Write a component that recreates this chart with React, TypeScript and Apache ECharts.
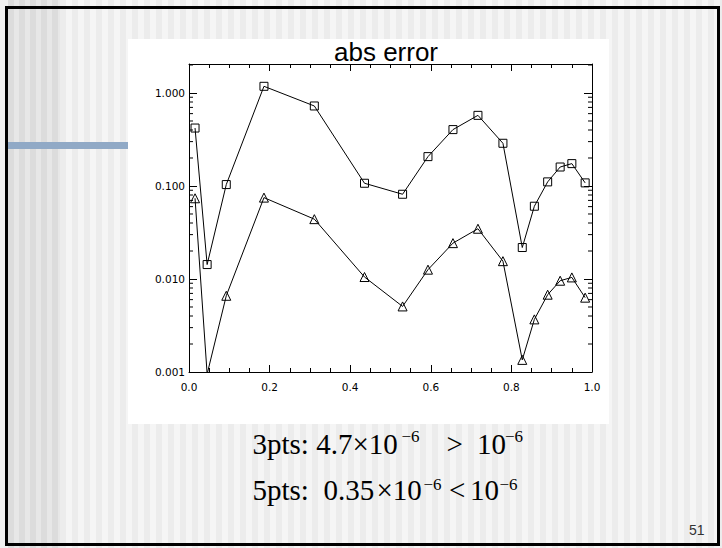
import React, { useEffect, useRef } from "react";
import * as echarts from "echarts";

// Node positions (x) and absolute errors
const xNodes = [0.015, 0.045, 0.0925, 0.186, 0.311, 0.4355, 0.53, 0.593, 0.655, 0.717, 0.779, 0.827, 0.857, 0.89, 0.921, 0.95, 0.983];
const errSquares = [0.42, 0.0143, 0.1036, 1.18, 0.725, 0.107, 0.0815, 0.207, 0.404, 0.575, 0.288, 0.0218, 0.0606, 0.1107, 0.16, 0.174, 0.108];
const errTriangles = [0.0738, 0.00095, 0.0066, 0.075, 0.044, 0.0105, 0.00507, 0.0126, 0.0243, 0.0347, 0.01555, 0.00135, 0.00368, 0.00678, 0.00958, 0.0104, 0.0063];

const titleText = "abs error";
const yMin = 0.001;
const yMax = 2.05;
const minorMultipliers = [2, 3, 4, 5, 6, 7, 8, 9];
const decades = [0.001, 0.01, 0.1, 1];
const pageNumber = "51";

const serif = "'Liberation Serif', 'Times New Roman', serif";
const sans = "'DejaVu Sans', sans-serif";

export default function App() {
  const ref = useRef<HTMLDivElement>(null);
  useEffect(() => {
    if (!ref.current) return;
    const chart = echarts.init(ref.current, null, { renderer: "svg" });

    const minorVals: number[][] = [];
    decades.forEach((d) => minorMultipliers.forEach((m) => {
      const v = d * m;
      if (v < yMax) minorVals.push([0, v]);
    }));

    const xAxisBase = (pos: string, showLabel: boolean) => ({
      type: "value",
      gridIndex: 0,
      position: pos,
      min: 0,
      max: 1,
      interval: 0.2,
      axisLine: { show: true, onZero: false, lineStyle: { color: "#000", width: 1 } },
      axisTick: { show: true, inside: true, length: 7, lineStyle: { color: "#000", width: 1 } },
      minorTick: { show: true, splitNumber: 4, length: 4, lineStyle: { color: "#000", width: 1 } },
      splitLine: { show: false },
      minorSplitLine: { show: false },
      axisLabel: {
        show: showLabel,
        formatter: (v: number) => v.toFixed(1),
        fontSize: 10.5,
        fontFamily: sans,
        color: "#000",
        margin: 9,
      },
    });
    const yAxisBase = (pos: string, showLabel: boolean) => ({
      type: "log",
      logBase: 10,
      gridIndex: 0,
      position: pos,
      min: yMin,
      max: yMax,
      axisLine: { show: true, onZero: false, lineStyle: { color: "#000", width: 1 } },
      axisTick: { show: true, inside: true, length: 8, lineStyle: { color: "#000", width: 1 } },
      minorTick: { show: false },
      splitLine: { show: false },
      axisLabel: {
        show: showLabel,
        formatter: (v: number) => v.toFixed(3),
        showMaxLabel: false,
        fontSize: 10.5,
        fontFamily: sans,
        color: "#000",
        margin: 4,
      },
    });

    const supStyle = { fontSize: 17, fontFamily: serif, fill: "#000" };
    const mainStyle = { fontSize: 29, fontFamily: serif, fill: "#000" };
    const txt = (x: number, y: number, text: string, style: any) => ({
      type: "text",
      x,
      y,
      style: { text, ...style, textAlign: "left", verticalAlign: "middle" },
    });

    chart.setOption({
      animation: false,
      title: {
        text: titleText,
        left: 381,
        top: 34,
        textAlign: "center",
        textStyle: { fontSize: 26, fontFamily: "'Liberation Sans', Arial, sans-serif", fontWeight: "normal", color: "#000" },
      },
      grid: { left: 189, top: 64, width: 403, height: 308, containLabel: false },
      xAxis: [xAxisBase("bottom", true), xAxisBase("top", false)],
      yAxis: [yAxisBase("left", true), yAxisBase("right", false)],
      graphic: [
        { type: "rect", z: -100, silent: true, shape: { x: 128, y: 39, width: 481, height: 385 }, style: { fill: "#ffffff" } },
        { type: "rect", z: -100, silent: true, shape: { x: 8, y: 142, width: 120, height: 7 }, style: { fill: "#90a9c6" } },
        { type: "rect", z: -100, silent: true, shape: { x: 6.5, y: 7.5, width: 712, height: 537 }, style: { fill: "none", stroke: "#000", lineWidth: 3 } },
        txt(252.5, 443.7, "3pts: 4.7×10", mainStyle),
        txt(401.5, 436, "−6", supStyle),
        txt(446.5, 443.7, ">", mainStyle),
        txt(477, 443.7, "10", mainStyle),
        txt(505, 436, "−6", supStyle),
        txt(252.5, 490.2, "5pts:  0.35", mainStyle),
        txt(376.5, 490.2, "×10", mainStyle),
        txt(423.5, 484.3, "−6", supStyle),
        txt(449, 490.2, "<", mainStyle),
        txt(470, 490.2, "10", mainStyle),
        txt(499.5, 484.3, "−6", supStyle),
        {
          type: "text",
          x: 689,
          y: 530,
          style: { text: pageNumber, fontSize: 14, fontFamily: "'Liberation Sans', Arial, sans-serif", fill: "#333", textAlign: "left", verticalAlign: "middle" },
        },
      ],
      series: [
        {
          type: "line",
          name: "3pts",
          data: xNodes.map((x, i) => [x, errSquares[i]]),
          xAxisIndex: 0,
          yAxisIndex: 0,
          symbol: "rect",
          symbolSize: 8,
          showSymbol: true,
          clip: true,
          lineStyle: { color: "#000", width: 1 },
          itemStyle: { color: "rgba(255,255,255,0)", borderColor: "#000", borderWidth: 1 },
          z: 3,
        },
        {
          type: "line",
          name: "5pts",
          data: xNodes.map((x, i) => [x, errTriangles[i]]),
          xAxisIndex: 0,
          yAxisIndex: 0,
          symbol: "triangle",
          symbolSize: 9,
          showSymbol: true,
          clip: true,
          lineStyle: { color: "#000", width: 1 },
          itemStyle: { color: "rgba(255,255,255,0)", borderColor: "#000", borderWidth: 1 },
          z: 3,
        },
        {
          type: "custom",
          name: "minor log ticks",
          xAxisIndex: 0,
          yAxisIndex: 0,
          silent: true,
          clip: false,
          data: minorVals,
          encode: { x: 0, y: 1 },
          renderItem: (params: any, api: any) => {
            const y = api.coord([0, api.value(1)])[1];
            const cs = params.coordSys;
            return {
              type: "group",
              children: [
                { type: "line", shape: { x1: cs.x, y1: y, x2: cs.x + 4, y2: y }, style: { stroke: "#000", lineWidth: 1 } },
                { type: "line", shape: { x1: cs.x + cs.width - 4, y1: y, x2: cs.x + cs.width, y2: y }, style: { stroke: "#000", lineWidth: 1 } },
              ],
            };
          },
        },
      ],
    });
    return () => chart.dispose();
  }, []);

  return (
    <div
      style={{
        position: "absolute",
        left: 0,
        top: 0,
        width: 722,
        height: 548,
        background:
          "repeating-linear-gradient(90deg, #dcdcdc 0px, #dcdcdc 6px, #e7e7e7 6px, #e7e7e7 11px) 8px 0 / 52px 100% no-repeat, repeating-linear-gradient(90deg, #ececec 0px, #ececec 6px, #f5f5f5 6px, #f5f5f5 12px) 60px 0 / 662px 100% no-repeat, #f0f0f0",
      }}
    >
      <div ref={ref} style={{ width: 722, height: 548 }} />
    </div>
  );
}
